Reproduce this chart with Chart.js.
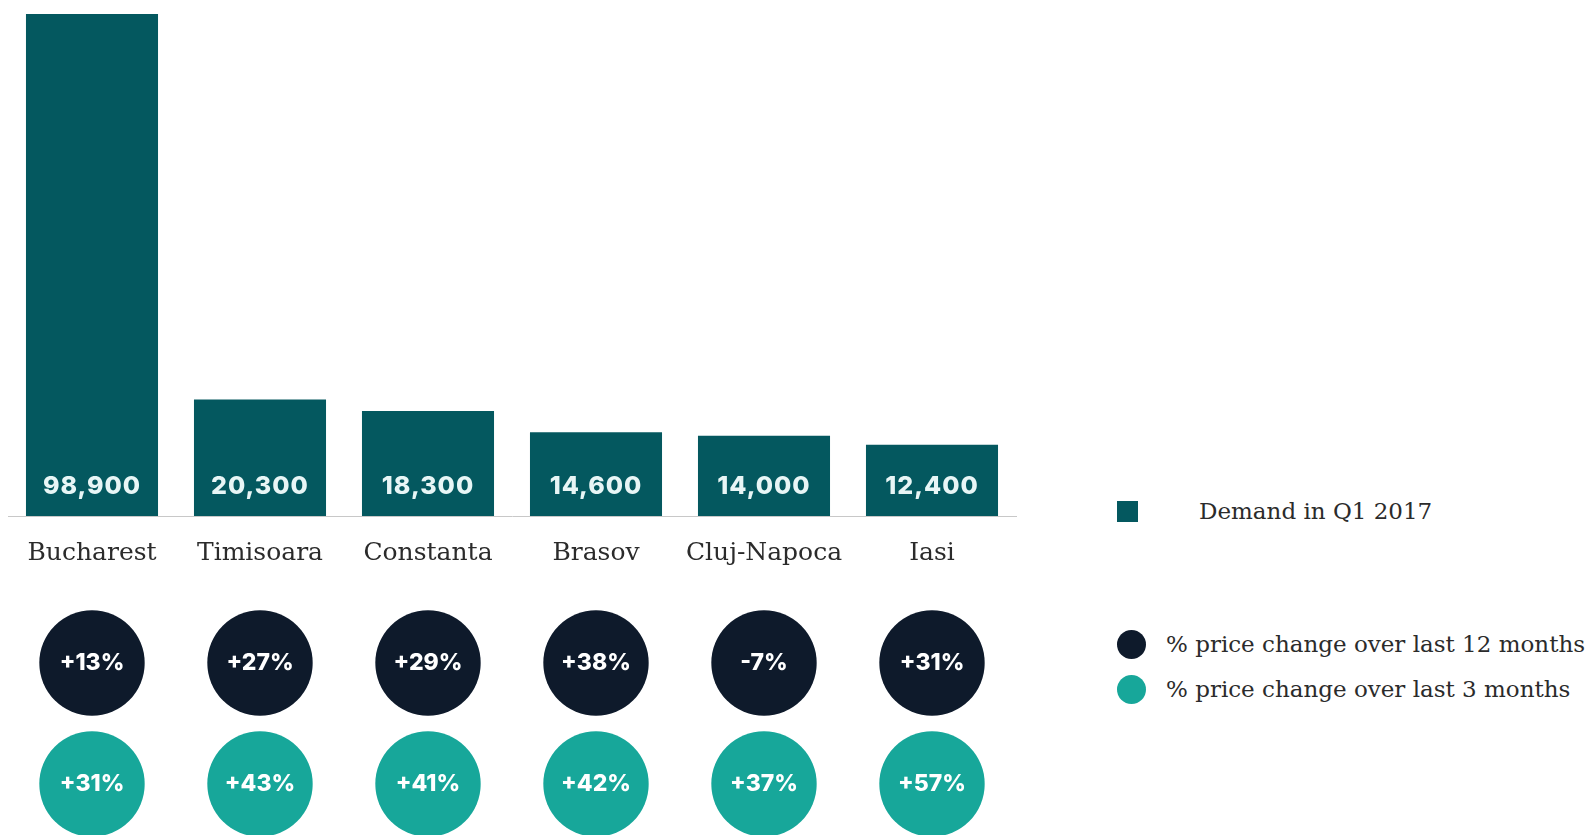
<!DOCTYPE html>
<html>
<head>
<meta charset="utf-8">
<script src="https://cdn.jsdelivr.net/npm/chart.js@4"></script>
<style>
  html, body { margin: 0; padding: 0; background: #fff; overflow: hidden; }
  #wrap { position: relative; width: 1587px; height: 835px; }
  #bars { position: absolute; left: 0; top: 0; }
  #dots { position: absolute; left: 0; top: 600px; }
  .legend { position: absolute; font-family: "DejaVu Serif", serif; font-size: 23px; color: #2b2b2b; white-space: nowrap; }
  .legend .mark { position: absolute; }
  .legend .txt { position: absolute; transform: translateY(-50%); }
</style>
</head>
<body>
<div id="wrap">
  <canvas id="bars" width="1030" height="599"></canvas>
  <canvas id="dots" width="1030" height="250"></canvas>
  <div class="legend" id="legend"></div>
</div>
<script>
// data
const cities = ["Bucharest", "Timisoara", "Constanta", "Brasov", "Cluj-Napoca", "Iasi"];
const demand = [98900, 20300, 18300, 14600, 14000, 12400];
const change12m = [13, 27, 29, 38, -7, 31];
const change3m = [31, 43, 41, 42, 37, 57];
const rows = ["12 months", "3 months"];

const barColor = "#04585f";
const navy = "#0e1a2b";
const teal = "#17a79a";

function fmtPct(v) {
  return (v > 0 ? "+" : "") + v + "%";
}

// numbers sitting at the foot of each bar
const barLabels = {
  id: "barLabels",
  afterDatasetsDraw(chart) {
    const ctx = chart.ctx;
    const meta = chart.getDatasetMeta(0);
    ctx.save();
    ctx.fillStyle = "#e8f6f6";
    ctx.font = "800 25px Inter";
    ctx.letterSpacing = "1px";
    ctx.textAlign = "center";
    ctx.textBaseline = "middle";
    meta.data.forEach((bar, i) => {
      ctx.fillText(demand[i].toLocaleString("en-US"), bar.x, chart.chartArea.bottom - 30);
    });
    ctx.restore();
  }
};

new Chart(document.getElementById("bars"), {
  type: "bar",
  data: {
    labels: cities,
    datasets: [{
      label: "Demand in Q1 2017",
      data: demand,
      backgroundColor: barColor,
      barPercentage: 0.786,
      categoryPercentage: 1,
      clip: 0
    }]
  },
  options: {
    responsive: false,
    animation: false,
    events: [],
    layout: { padding: { top: 14, left: 8, right: 14, bottom: 9 } },
    plugins: { legend: { display: false }, tooltip: { enabled: false } },
    scales: {
      x: {
        grid: { display: false, drawTicks: false },
        border: { display: true, color: "#c8c8c8", width: 1 },
        ticks: { padding: 22, color: "#2b2b2b", font: { family: "DejaVu Serif", size: 25 } }
      },
      y: { display: false, min: 0, max: 87500 }
    }
  },
  plugins: [barLabels]
});

// percentages written inside the circles
const dotLabels = {
  id: "dotLabels",
  afterDatasetsDraw(chart) {
    const ctx = chart.ctx;
    ctx.save();
    ctx.fillStyle = "#ffffff";
    ctx.font = "800 23px Inter";
    ctx.textAlign = "center";
    ctx.textBaseline = "middle";
    chart.data.datasets.forEach((ds, d) => {
      chart.getDatasetMeta(d).data.forEach((pt, i) => {
        ctx.fillText(fmtPct(ds.pct[i]), pt.x, pt.y);
      });
    });
    ctx.restore();
  }
};

new Chart(document.getElementById("dots"), {
  type: "line",
  data: {
    labels: cities,
    datasets: [
      {
        label: "% price change over last 12 months",
        data: cities.map(c => ({ x: c, y: rows[0] })),
        pct: change12m,
        backgroundColor: navy,
        borderWidth: 0,
        showLine: false,
        clip: false,
        pointRadius: 52.7,
        pointHoverRadius: 52.7
      },
      {
        label: "% price change over last 3 months",
        data: cities.map(c => ({ x: c, y: rows[1] })),
        pct: change3m,
        backgroundColor: teal,
        borderWidth: 0,
        showLine: false,
        clip: false,
        pointRadius: 52.7,
        pointHoverRadius: 52.7
      }
    ]
  },
  options: {
    responsive: false,
    animation: false,
    events: [],
    layout: { autoPadding: false, padding: { top: 2.5, left: 8, right: 14, bottom: 5.5 } },
    plugins: { legend: { display: false }, tooltip: { enabled: false } },
    scales: {
      x: { type: "category", labels: cities, display: false, offset: true },
      y: { type: "category", labels: rows, display: false, offset: true }
    }
  },
  plugins: [dotLabels]
});

// legend on the right
const legendItems = [
  { text: "Demand in Q1 2017", color: barColor, shape: "square", x: 1117, y: 511, tx: 1199 },
  { text: "% price change over last 12 months", color: navy, shape: "circle", x: 1117, y: 644, tx: 1166 },
  { text: "% price change over last 3 months", color: teal, shape: "circle", x: 1117, y: 689, tx: 1166 }
];
const legend = document.getElementById("legend");
legendItems.forEach(item => {
  const m = document.createElement("div");
  m.className = "mark";
  const size = item.shape === "square" ? 21 : 29;
  m.style.left = item.x + "px";
  m.style.top = (item.y - size / 2) + "px";
  m.style.width = size + "px";
  m.style.height = size + "px";
  m.style.background = item.color;
  if (item.shape === "circle") m.style.borderRadius = "50%";
  legend.appendChild(m);
  const t = document.createElement("div");
  t.className = "txt";
  t.style.left = item.tx + "px";
  t.style.top = item.y + "px";
  t.textContent = item.text;
  legend.appendChild(t);
});
</script>
</body>
</html>
